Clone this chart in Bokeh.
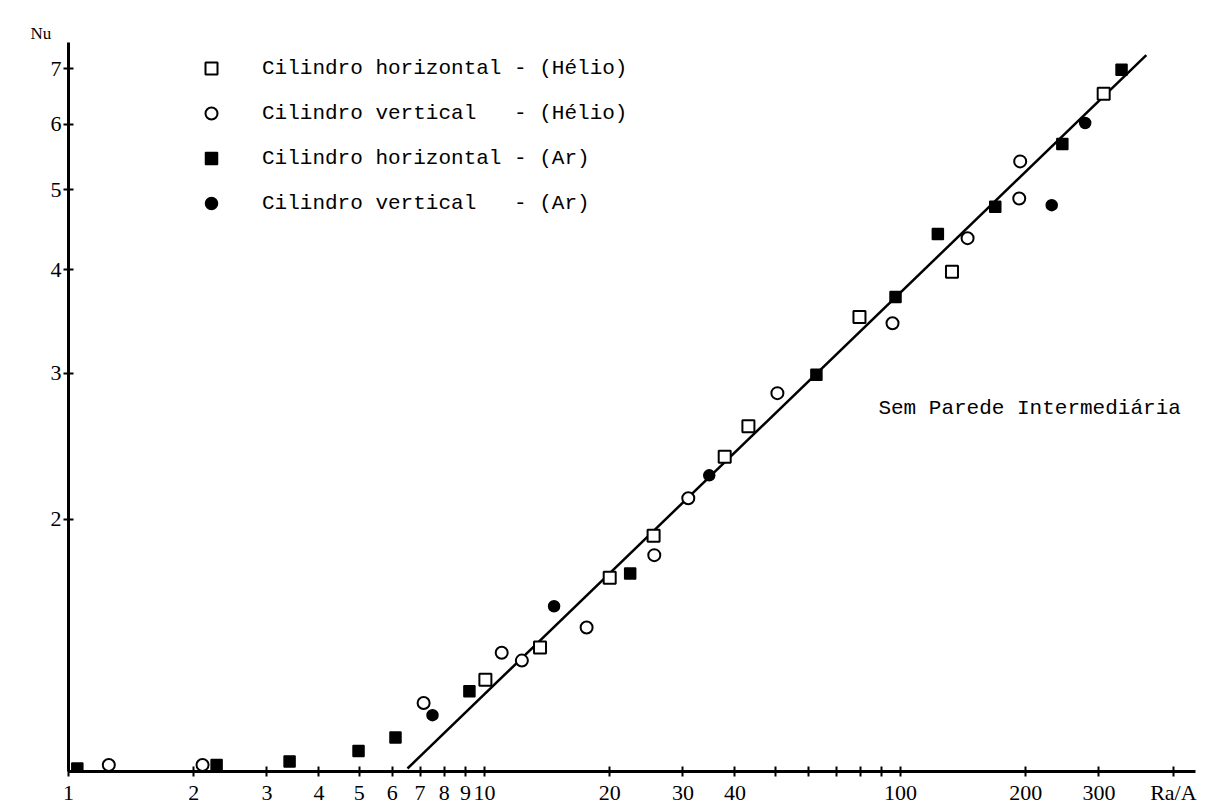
from bokeh.plotting import figure
from bokeh.models import Range1d, FixedTicker, Label, Legend, LegendItem
from bokeh.embed import file_html
from bokeh.resources import INLINE

# ---------------- data ----------------
# Cilindro horizontal - (Hélio)  : open squares
he_hor_x = [10.05, 13.6, 20.0, 25.5, 37.8, 43.1, 79.7, 133.0, 308.0]
he_hor_y = [1.28, 1.40, 1.70, 1.91, 2.38, 2.59, 3.51, 3.98, 6.53]
# Cilindro vertical - (Hélio)    : open circles
he_ver_x = [1.25, 2.10, 7.14, 11.0, 12.3, 17.6, 25.6, 30.9, 50.6, 95.7, 145.0, 193.0, 194.0]
he_ver_y = [1.01, 1.01, 1.20, 1.38, 1.35, 1.48, 1.81, 2.12, 2.84, 3.45, 4.37, 4.88, 5.41]
# Cilindro horizontal - (Ar)     : filled squares
ar_hor_x = [1.05, 2.27, 3.40, 4.98, 6.11, 9.20, 22.4, 62.8, 97.3, 123.0, 169.0, 245.0, 340.0]
ar_hor_y = [1.00, 1.01, 1.02, 1.05, 1.09, 1.24, 1.72, 2.99, 3.71, 4.42, 4.77, 5.68, 6.98]
# Cilindro vertical - (Ar)       : filled circles
ar_ver_x = [7.50, 14.7, 34.7, 231.0, 278.0]
ar_ver_y = [1.16, 1.57, 2.26, 4.79, 6.02]
# correlation line
fit_x = [6.53, 390.0]
fit_y = [1.0, 7.27]

# axis ticks; the x-axis name "Ra/A" sits in the tick-label row at the right end
x_ticks = [1, 2, 3, 4, 5, 6, 7, 8, 9, 10, 20, 30, 40, 50, 60, 70, 80, 90, 100, 200, 300, 453]
x_tick_labels = ["1", "2", "3", "4", "5", "6", "7", "8", "9", "10", "20", "30", "40",
                 "", "", "", "", "", "100", "200", "300", "Ra/A"]
y_ticks = [2, 3, 4, 5, 6, 7]
y_tick_labels = ["2", "3", "4", "5", "6", "7"]
y_name = "Nu"

legend_labels = [
    "Cilindro horizontal - (Hélio)",
    "Cilindro vertical\u00a0\u00a0 - (Hélio)",
    "Cilindro horizontal - (Ar)",
    "Cilindro vertical\u00a0\u00a0 - (Ar)",
]
note_text = "Sem Parede Intermediária"

# ---------------- figure ----------------
p = figure(width=1208, height=812, x_axis_type="log", y_axis_type="log",
           x_range=Range1d(1, 512), y_range=Range1d(0.9917, 7.53),
           output_backend="svg", toolbar_location=None,
           min_border_left=68, min_border_right=13,
           min_border_top=42, min_border_bottom=41)
p.grid.visible = False
p.outline_line_color = None
p.background_fill_color = "white"
p.border_fill_color = "white"

# y-axis name "Nu" at the top left, above the axis
p.title.text = y_name
p.title.align = "left"
p.title.offset = -38
p.title.standoff = 0
p.title.text_font = "Liberation Serif"
p.title.text_font_size = "17px"
p.title.text_font_style = "normal"
p.title.text_color = "black"

for ax in (p.xaxis, p.yaxis):
    ax.axis_line_width = 3
    ax.axis_line_color = "black"
    ax.major_tick_line_width = 2
    ax.major_tick_line_color = "black"
    ax.major_tick_in = 5
    ax.major_tick_out = 5
    ax.minor_tick_line_color = None
    ax.major_label_text_font = "Liberation Serif"
    ax.major_label_text_font_size = "22px"
    ax.major_label_text_color = "black"

p.xaxis.ticker = FixedTicker(ticks=x_ticks, minor_ticks=[])
p.xaxis.major_label_overrides = dict(zip(x_ticks, x_tick_labels))
p.xaxis.major_label_standoff = 3
p.yaxis.ticker = FixedTicker(ticks=y_ticks, minor_ticks=[])
p.yaxis.major_label_overrides = dict(zip(y_ticks, y_tick_labels))
p.yaxis.major_label_standoff = 2

# fit line
p.line(fit_x, fit_y, line_color="black", line_width=2.5)

r1 = p.scatter(he_hor_x, he_hor_y, marker="square", size=12,
               fill_color="white", line_color="black", line_width=2)
r2 = p.scatter(he_ver_x, he_ver_y, marker="circle", size=12,
               fill_color="white", line_color="black", line_width=2)
r3 = p.scatter(ar_hor_x, ar_hor_y, marker="square", size=11,
               fill_color="black", line_color="black", line_width=1.5)
r4 = p.scatter(ar_ver_x, ar_ver_y, marker="circle", size=11,
               fill_color="black", line_color="black", line_width=1.5)

legend = Legend(items=[LegendItem(label=legend_labels[0], renderers=[r1]),
                       LegendItem(label=legend_labels[1], renderers=[r2]),
                       LegendItem(label=legend_labels[2], renderers=[r3]),
                       LegendItem(label=legend_labels[3], renderers=[r4])],
                location=(128, 553), glyph_width=30, glyph_height=30,
                label_height=30, spacing=15, padding=0, margin=0,
                label_standoff=36, border_line_color=None,
                background_fill_alpha=0,
                label_text_font="Liberation Mono", label_text_font_size="21px",
                label_text_color="black")
p.add_layout(legend, "center")

p.add_layout(Label(x=88.5, y=2.72, text=note_text, text_baseline="middle",
                   text_font="Liberation Mono", text_font_size="21px",
                   text_color="black"))

open("out.html", "w").write(file_html(p, INLINE))
